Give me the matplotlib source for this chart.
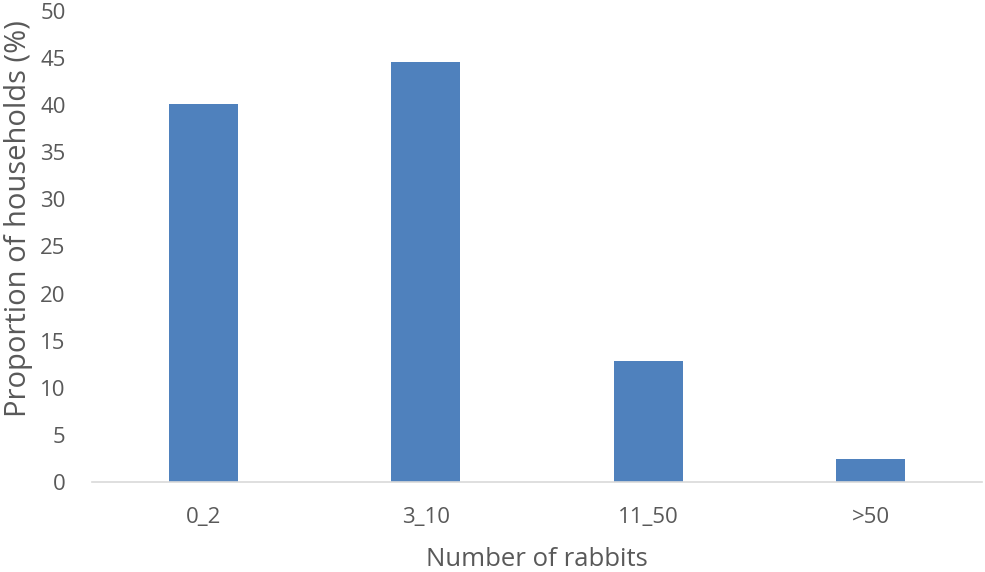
import matplotlib
matplotlib.use("Agg")
import matplotlib.pyplot as plt

categories = ["0_2", "3_10", "11_50", ">50"]
values = [40.1, 44.6, 12.8, 2.4]
yticks = [0, 5, 10, 15, 20, 25, 30, 35, 40, 45, 50]

plt.rcParams['font.family'] = ['Open Sans', 'DejaVu Sans']
txt = '#595959'

fig = plt.figure(figsize=(9.85, 5.72), dpi=100)
ax = fig.add_axes([92/985, 90/572, 890/985, 471/572])
x = range(len(categories))
ax.bar(x, values, width=0.31, color='#4f81bd')
ax.set_xlim(-0.5, len(categories) - 0.5)
ax.set_ylim(0, 50)
ax.set_yticks(yticks)
ax.set_xticks(list(x))
ax.set_xticklabels(categories)
ax.tick_params(axis='both', length=0, colors=txt, labelsize=16)
ax.tick_params(axis='y', pad=19)
ax.tick_params(axis='x', pad=18)
for s in ['top', 'right', 'left']:
    ax.spines[s].set_visible(False)
ax.spines['bottom'].set_color('#d9d9d9')
ax.spines['bottom'].set_linewidth(1.2)
ax.set_xlabel('Number of rabbits', color=txt, fontsize=18.5)
ax.xaxis.set_label_coords(0.5, -0.138)
ax.set_ylabel('Proportion of households (%)', color=txt, fontsize=21)
ax.yaxis.set_label_coords(-0.066, 0.56)
fig.savefig('out.png', dpi=100)
